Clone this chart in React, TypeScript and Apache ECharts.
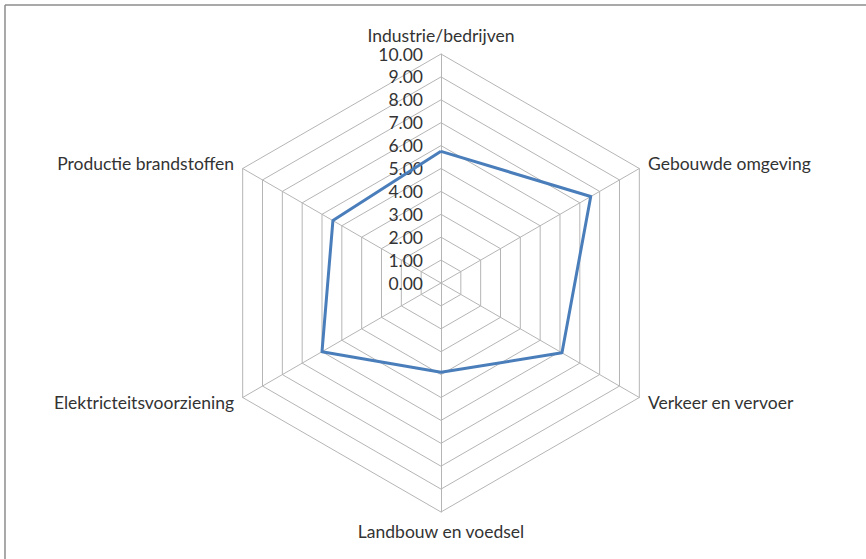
import React, { useEffect, useRef } from "react";
import * as echarts from "echarts";

const categories = [
  "Industrie/bedrijven",
  "Gebouwde omgeving",
  "Verkeer en vervoer",
  "Landbouw en voedsel",
  "Elektricteitsvoorziening",
  "Productie brandstoffen",
];
const values = [5.75, 7.55, 6.1, 3.9, 6.0, 5.45];
const axisMax = 10;

// ECharts radar runs counter-clockwise; the reference runs clockwise.
const order = [0, 5, 4, 3, 2, 1];

export default function App() {
  const ref = useRef<HTMLDivElement>(null);
  useEffect(() => {
    if (!ref.current) return;
    const chart = echarts.init(ref.current, null, { renderer: "svg" });
    chart.setOption({
      animation: false,
      backgroundColor: "#ffffff",
      textStyle: { fontFamily: "Lato" },
      graphic: [
        { type: "line", shape: { x1: 5, y1: 5, x2: 866, y2: 5 }, style: { stroke: "#8c8c8c", lineWidth: 1.5 } },
        { type: "line", shape: { x1: 5, y1: 5, x2: 5, y2: 559 }, style: { stroke: "#8c8c8c", lineWidth: 1.5 } },
      ],
      radar: {
        center: [441, 283],
        radius: 229,
        startAngle: 90,
        shape: "polygon",
        splitNumber: 10,
        nameGap: 10,
        axisName: { color: "#333333", fontSize: 17.5, fontFamily: "Lato" },
        axisLine: { lineStyle: { color: "#b5b5b5", width: 1 } },
        splitLine: { lineStyle: { color: "#b5b5b5", width: 1 } },
        splitArea: { show: false },
        axisTick: { show: false },
        axisLabel: { show: false },
        indicator: order.map((idx, i) =>
          i === 0
            ? {
                name: categories[idx],
                min: 0,
                max: axisMax,
                axisLabel: {
                  show: true,
                  color: "#333333",
                  fontSize: 17.5,
                  fontFamily: "Lato",
                  formatter: (v: number) => v.toFixed(2),
                  margin: 18,
                },
              }
            : { name: categories[idx], min: 0, max: axisMax }
        ),
      },
      series: [
        {
          type: "radar",
          symbol: "none",
          lineStyle: { color: "#4A7EBB", width: 3 },
          data: [{ value: order.map((idx) => values[idx]), name: "Score" }],
        },
      ],
    });
    return () => chart.dispose();
  }, []);
  return (
    <div
      ref={ref}
      style={{ position: "fixed", left: 0, top: 0, width: 866, height: 559 }}
    />
  );
}
